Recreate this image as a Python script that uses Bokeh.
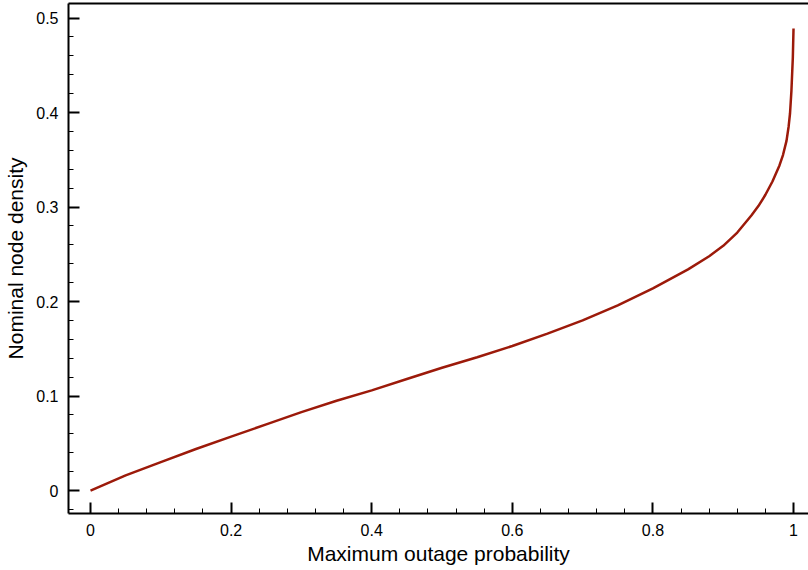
from bokeh.plotting import figure
from bokeh.models import LinearAxis, FixedTicker, Range1d, SingleIntervalTicker
from bokeh.embed import file_html
from bokeh.resources import INLINE

# Data
outage_prob = [0.0, 0.05, 0.1, 0.15, 0.2, 0.25, 0.3, 0.35, 0.4, 0.45, 0.5, 0.55,
               0.6, 0.65, 0.7, 0.75, 0.8, 0.85, 0.88, 0.9, 0.92, 0.94, 0.95, 0.96,
               0.97, 0.98, 0.985, 0.99, 0.993, 0.995, 0.997, 0.999, 1.0]
node_density = [0.0, 0.016, 0.030, 0.044, 0.057, 0.070, 0.083, 0.095, 0.106, 0.118,
                0.130, 0.141, 0.153, 0.166, 0.180, 0.196, 0.214, 0.234, 0.248, 0.259,
                0.273, 0.291, 0.301, 0.313, 0.327, 0.344, 0.355, 0.370, 0.385, 0.399,
                0.423, 0.458, 0.489]
x_ticks = [0, 0.2, 0.4, 0.6, 0.8, 1.0]
y_ticks = [0, 0.1, 0.2, 0.3, 0.4, 0.5]

FONT = "Liberation Sans"

p = figure(width=808, height=570, output_backend="svg", toolbar_location=None,
           x_range=Range1d(-0.0313, 1.0213), y_range=Range1d(-0.0243, 0.5154),
           x_axis_label="Maximum outage probability",
           y_axis_label="Nominal node density",
           min_border_left=68, min_border_right=0, min_border_top=3, min_border_bottom=57)

p.outline_line_color = None
p.grid.visible = False
p.background_fill_color = "white"
p.border_fill_color = "white"

for ax in (p.xaxis[0], p.yaxis[0]):
    ax.axis_line_width = 2
    ax.axis_line_color = "black"
    ax.major_tick_in = 11
    ax.major_tick_out = 0
    ax.minor_tick_in = 5
    ax.minor_tick_out = 0
    ax.major_tick_line_width = 2
    ax.minor_tick_line_width = 1
    ax.major_label_text_font = FONT
    ax.major_label_text_font_size = "16px"
    ax.major_label_text_color = "black"
    ax.axis_label_text_font = FONT
    ax.axis_label_text_font_size = "21px"
    ax.axis_label_text_font_style = "normal"
    ax.axis_label_text_color = "black"

p.xaxis[0].ticker = SingleIntervalTicker(interval=0.2, num_minor_ticks=5)
p.yaxis[0].ticker = SingleIntervalTicker(interval=0.1, num_minor_ticks=5)
p.xaxis[0].major_label_overrides = {t: ("%g" % t) for t in x_ticks}
p.yaxis[0].major_label_overrides = {t: ("%g" % t) for t in y_ticks}
p.xaxis[0].major_label_standoff = 10
p.yaxis[0].major_label_standoff = 10
p.xaxis[0].axis_label_standoff = 3
p.yaxis[0].axis_label_standoff = 6

top = LinearAxis(ticker=FixedTicker(ticks=[]), axis_line_width=2, axis_line_color="black",
                 major_tick_in=0, major_tick_out=0, minor_tick_in=0, minor_tick_out=0,
                 major_label_text_font_size="0px", major_label_standoff=0)
p.add_layout(top, "above")

p.line(outage_prob, node_density, line_color="#9c1a0a", line_width=2.5)

open("out.html", "w").write(file_html(p, INLINE))
